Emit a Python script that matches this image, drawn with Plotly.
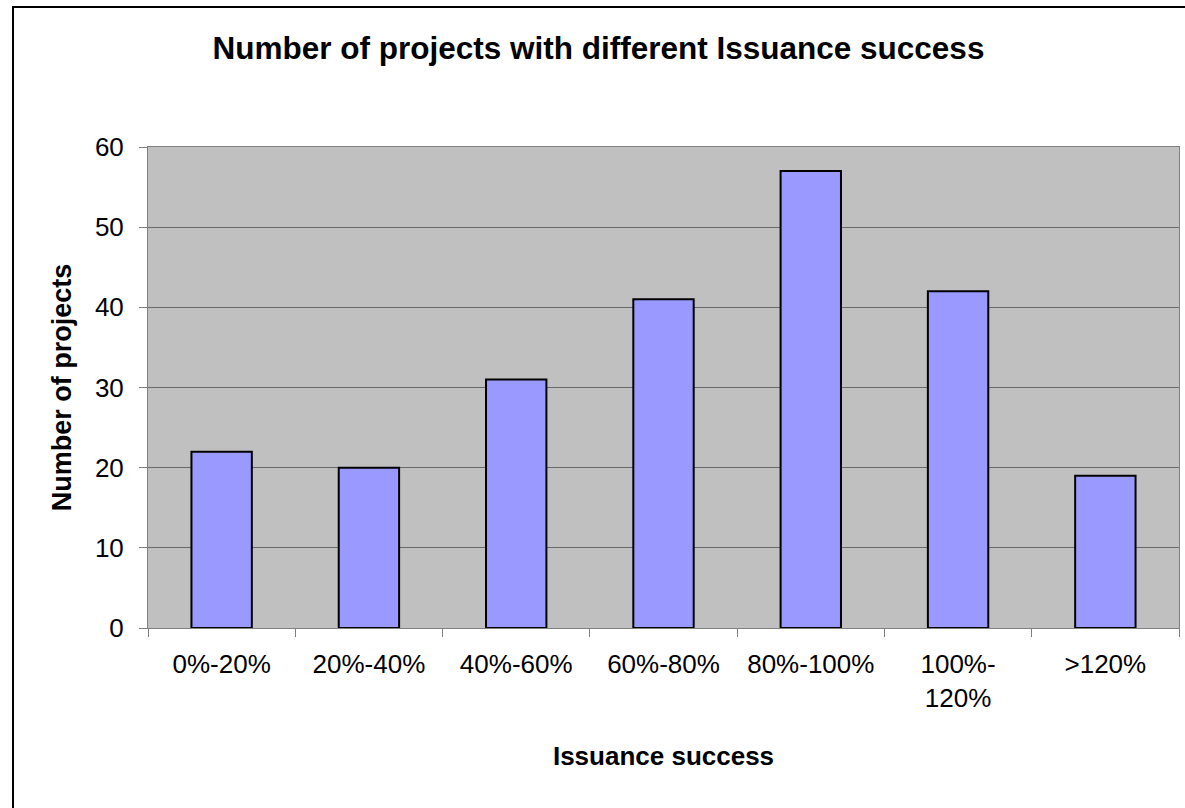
import plotly.graph_objects as go

categories = ["0%-20%", "20%-40%", "40%-60%", "60%-80%", "80%-100%", "100%-<br>120%", ">120%"]
values = [22, 20, 31, 41, 57, 42, 19]
y_ticks = [0, 10, 20, 30, 40, 50, 60]

L, R, T, B = 148, 6, 147, 180
W, H = 1185, 808
pw = W - L - R
ph = H - T - B

def px_x(px):
    return (px - L) / pw

def px_y(py):
    return (H - B - py) / ph

FONT = "Liberation Sans, Arial, sans-serif"

fig = go.Figure()
fig.add_trace(go.Bar(
    x=categories, y=values,
    marker=dict(color="#9999FF", line=dict(color="#000000", width=2)),
    width=0.41,
))

fig.update_layout(
    width=W, height=H,
    margin=dict(l=L, r=R, t=T, b=B),
    paper_bgcolor="white",
    plot_bgcolor="#C0C0C0",
    font=dict(family=FONT, color="black"),
    showlegend=False,
    title=dict(text="<b>Number of projects with different Issuance success</b>",
               x=0.505, xref="container", xanchor="center",
               y=1 - 48 / H, yref="container", yanchor="middle",
               font=dict(size=31.5)),
)
fig.update_xaxes(
    type="category", tickson="boundaries", ticks="outside", ticklen=8,
    tickcolor="#808080", tickwidth=1, showline=True, linecolor="#808080", linewidth=1,
    mirror=True, showgrid=False, tickfont=dict(size=26), ticklabelstandoff=13,
    title=dict(text="<b>Issuance success</b>", font=dict(size=26), standoff=34),
)
fig.update_yaxes(
    range=[0, 60], tickvals=y_ticks, ticks="outside", ticklen=8,
    tickcolor="#808080", showline=True, linecolor="#808080", linewidth=1, mirror=True,
    showgrid=True, gridcolor="#6A6A6A", gridwidth=1, zeroline=False,
    tickfont=dict(size=26), ticklabelstandoff=10,
    title=dict(text="<b>Number of projects</b>", font=dict(size=27), standoff=15),
)

fig.add_shape(type="rect", xref="paper", yref="paper",
              x0=px_x(13), x1=px_x(1210), y0=px_y(840), y1=px_y(7),
              line=dict(color="black", width=2), fillcolor="rgba(0,0,0,0)", layer="below")

fig.write_html("out.html", config={"displayModeBar": False},
               post_script="document.body.style.margin='0px';")
